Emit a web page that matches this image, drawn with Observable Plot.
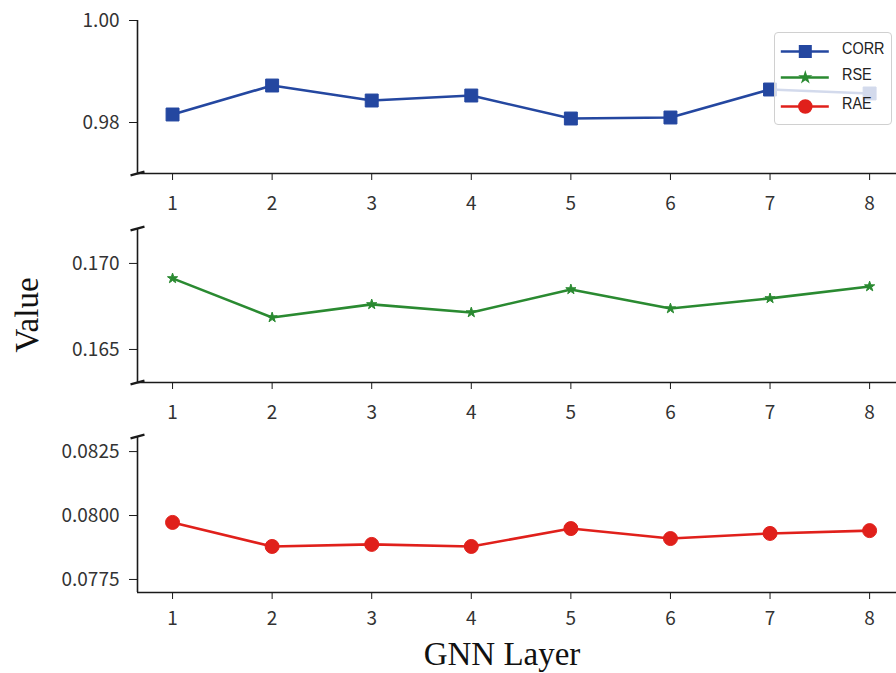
<!DOCTYPE html>
<html>
<head>
<meta charset="utf-8">
<script src="https://cdn.jsdelivr.net/npm/d3@7"></script>
<script src="https://cdn.jsdelivr.net/npm/@observablehq/plot@0.6"></script>
<style>
  html, body { margin: 0; padding: 0; background: #fff; }
  #wrap { position: relative; width: 896px; height: 673px; overflow: hidden; font-family: "Noto Sans CJK SC", "DejaVu Sans", sans-serif; }
  .panel { position: absolute; left: 0; }
  #ylab { position: absolute; left: 27px; top: 315px; transform: translate(-50%, -50%) rotate(-90deg); font-family: "Liberation Serif", "DejaVu Serif", serif; font-size: 33px; color: #111; white-space: nowrap; }
  #xlab { position: absolute; left: 502px; top: 654px; transform: translate(-50%, -50%); font-family: "Liberation Serif", "DejaVu Serif", serif; font-size: 33px; color: #111; white-space: nowrap; }
  #legend { position: absolute; left: 774px; top: 32px; width: 118px; height: 93px; background: rgba(255,255,255,0.8); border: 1px solid #d0d0d0; border-radius: 4px; box-sizing: border-box; }
  #legend .row { position: absolute; left: 0; height: 20px; }
  #legend .lab { position: absolute; left: 67px; top: -2px; font-family: "Liberation Sans Narrow", "Liberation Sans", sans-serif; font-size: 17px; color: #222; transform: scaleX(0.85); transform-origin: left center; }
</style>
</head>
<body>
<div id="wrap">
  <div id="ylab">Value</div>
  <div id="xlab">GNN Layer</div>
</div>
<script>
const layers = [1, 2, 3, 4, 5, 6, 7, 8];
const corr = [0.98157, 0.98725, 0.98431, 0.98529, 0.98078, 0.98098, 0.98647, 0.98569];
const rse  = [0.16913, 0.16686, 0.16762, 0.16715, 0.16849, 0.16738, 0.16797, 0.16866];
const rae  = [0.07973, 0.07879, 0.07887, 0.07879, 0.07949, 0.07910, 0.07930, 0.07941];
const seriesNames = ["CORR", "RSE", "RAE"];
const colors = ["#2447a0", "#2a8a31", "#e0201b"];
const symbols = ["square", "star", "circle"];
const corrTicks = [0.98, 1.00];
const rseTicks = [0.165, 0.170];
const raeTicks = [0.0775, 0.0800, 0.0825];

const xDomain = [0.648, 8.27];
const wrap = document.getElementById("wrap");

const panels = [
  {values: corr, color: colors[0], symbol: symbols[0], r: 7.3, ticks: corrTicks, fmt: ".2f", domain: [0.97, 1.00], top: 0, mt: 20, plotH: 153, pad: 16, breakTop: false, breakBottom: true},
  {values: rse,  color: colors[1], symbol: symbols[1], r: 3.2, ticks: rseTicks,  fmt: ".3f", domain: [0.16308, 0.17203], top: 213, mt: 15, plotH: 154, pad: 16, breakTop: true, breakBottom: true},
  {values: rae,  color: colors[2], symbol: symbols[2], r: 7, ticks: raeTicks,  fmt: ".4f", domain: [0.07699, 0.08309], top: 422, mt: 14, plotH: 156, pad: 12, breakTop: true, breakBottom: false}
];

panels.forEach(p => {
  const data = layers.map((l, i) => ({layer: l, value: p.values[i]}));
  const ymin = p.domain[0], ymax = p.domain[1];
  const dy = (ymax - ymin) * 0.012;
  const dx = 0.07;
  const breaks = [];
  if (p.breakTop) breaks.push({x1: xDomain[0] - dx, y1: ymax - dy, x2: xDomain[0] + dx, y2: ymax + dy});
  if (p.breakBottom) breaks.push({x1: xDomain[0] - dx, y1: ymin - dy, x2: xDomain[0] + dx, y2: ymin + dy});
  const chart = Plot.plot({
    width: 896,
    height: p.mt + p.plotH + 40,
    marginTop: p.mt,
    marginBottom: 40,
    marginLeft: 137,
    marginRight: 0,
    style: {background: "transparent", overflow: "visible"},
    x: {domain: xDomain},
    y: {domain: p.domain},
    marks: [
      Plot.ruleX([xDomain[0]], {stroke: "#1a1a1a", strokeWidth: 1.6}),
      Plot.ruleY([ymin], {stroke: "#1a1a1a", strokeWidth: 1.6}),
      Plot.link(breaks, {x1: "x1", y1: "y1", x2: "x2", y2: "y2", stroke: "#1a1a1a", strokeWidth: 2.2}),
      Plot.axisY({ticks: p.ticks, tickFormat: d3.format(p.fmt), tickSize: 8, tickPadding: 10, fontSize: 19, label: null, stroke: "#1a1a1a", color: "#333", fontFamily: "Noto Sans CJK SC, DejaVu Sans, sans-serif"}),
      Plot.axisX({ticks: layers, tickFormat: d => String(d), tickSize: 7, tickPadding: p.pad, fontSize: 19, label: null, stroke: "#1a1a1a", color: "#333", fontFamily: "Noto Sans CJK SC, DejaVu Sans, sans-serif"}),
      Plot.line(data, {x: "layer", y: "value", stroke: p.color, strokeWidth: 2.6}),
      Plot.dot(data, {x: "layer", y: "value", fill: p.color, stroke: p.color, symbol: p.symbol, r: p.r, strokeWidth: 1})
    ]
  });
  chart.classList.add("panel");
  chart.style.top = p.top + "px";
  wrap.appendChild(chart);
});

// legend
const legend = document.createElement("div");
legend.id = "legend";
const rowTops = [8, 34, 63];
seriesNames.forEach((name, i) => {
  const row = document.createElement("div");
  row.className = "row";
  row.style.top = rowTops[i] + "px";
  row.style.width = "116px";
  const sw = Plot.plot({
    width: 60, height: 20, margin: 0,
    x: {domain: [0, 1], axis: null},
    y: {domain: [0, 1], axis: null},
    style: {background: "transparent", overflow: "visible", position: "absolute", left: "4px", top: "0px"},
    marks: [
      Plot.ruleY([0.5], {x1: 0.03, x2: 0.83, stroke: colors[i], strokeWidth: 2.6}),
      Plot.dot([{x: 0.43, y: 0.5}], {x: "x", y: "y", symbol: symbols[i], fill: colors[i], stroke: colors[i], r: [6.5, 3, 6.5][i]})
    ]
  });
  row.appendChild(sw);
  const lab = document.createElement("div");
  lab.className = "lab";
  lab.textContent = name;
  row.appendChild(lab);
  legend.appendChild(row);
});
wrap.appendChild(legend);
</script>
</body>
</html>
